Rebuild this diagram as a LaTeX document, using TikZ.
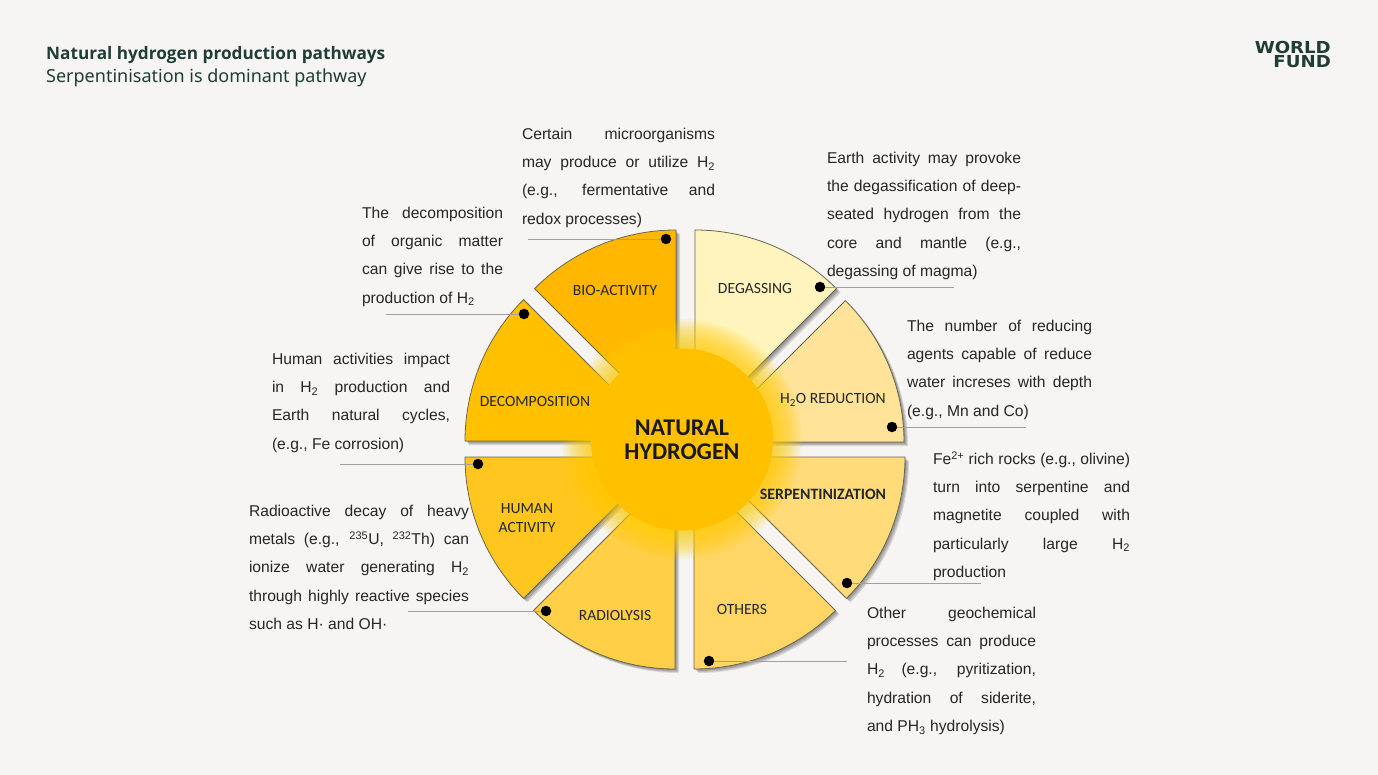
\documentclass[tikz,border=0pt]{standalone}
\usepackage{fontspec}
\setmainfont{Liberation Sans}
\newfontfamily\labelfont{Carlito}
\newfontfamily\titlefont{Noto Sans}
\newfontfamily\titleboldfont{Open Sans}
\newfontfamily\logofont[FakeStretch=1.1]{DejaVu Sans}
\definecolor{bgc}{HTML}{F6F5F3}
\definecolor{txtc}{HTML}{262626}
\definecolor{titlec}{HTML}{1F3D36}
\definecolor{edgec}{HTML}{6A6650}
\definecolor{leadc}{HTML}{A0A0A0}
\definecolor{hubc}{HTML}{FFC000}
\definecolor{glowc}{HTML}{FFCC00}
\definecolor{cdeg}{HTML}{FFF4BD}
\definecolor{chtwo}{HTML}{FFE399}
\definecolor{cser}{HTML}{FFDB7A}
\definecolor{coth}{HTML}{FFD666}
\definecolor{crad}{HTML}{FFCF47}
\definecolor{chum}{HTML}{FFC61F}
\definecolor{cdec}{HTML}{FFC000}
\definecolor{cbio}{HTML}{FFB700}
\tikzset{
  para/.style={anchor=north west,inner sep=0pt,outer sep=0pt,text=txtc,align=justify,font=\fontsize{15.65}{28.2}\selectfont,execute at begin node={\hyphenpenalty=10000 \tolerance=9999 }},
  seclabel/.style={inner sep=0pt,text=black!85,font=\labelfont\fontsize{15.6}{18.5}\selectfont,align=center},
  dotnode/.style={circle,fill=black,inner sep=0pt,minimum size=10.5pt},
  leader/.style={draw=leadc,line width=0.9pt},
  sectoredge/.style={draw=edgec,line width=0.8pt,line join=round},
  logotext/.style={anchor=base east,inner sep=0pt,text=titlec,font=\logofont\bfseries\fontsize{16.5}{14}\selectfont},
}
\newcommand{\sectorpath}[4]{(#1,#2) -- ++(#3:200) arc[start angle=#3,end angle=#4,radius=200] -- cycle}
\newcommand{\sector}[5]{%
  \foreach \d in {1,2,3,4}{\fill[black,opacity=.12,shift={(\d,\d)}] \sectorpath{#1}{#2}{#3}{#4};}%
  \path[sectoredge,fill=#5] \sectorpath{#1}{#2}{#3}{#4};}
\newcommand{\lb}{\linebreak}
\begin{document}
\begin{tikzpicture}[x=1pt,y=1pt,yscale=-1]
\useasboundingbox (0,0) rectangle (1378,775);
\fill[bgc] (0,0) rectangle (1378,775);

\node[anchor=base west,inner sep=0pt,text=titlec,font=\titleboldfont\bfseries\fontsize{17.2}{22}\selectfont] (title) at (46,59.5) {Natural hydrogen production pathways};
\node[anchor=base west,inner sep=0pt,text=titlec,font=\titlefont\fontsize{18}{22}\selectfont] (subtitle) at (46,82.5) {Serpentinisation is dominant pathway};
\node[logotext] (logoa) at (1331,53.5) {WORLD};
\node[logotext] (logob) at (1331,67.5) {FUND};

\sector{695}{430}{-90}{-45}{cdeg}
\sector{704}{442}{-45}{0}{chtwo}
\sector{705}{457}{0}{45}{cser}
\sector{694}{469}{45}{90}{coth}
\sector{675}{469}{90}{135}{crad}
\sector{665}{457}{135}{180}{chum}
\sector{665}{441}{180}{225}{cdec}
\sector{676}{430}{225}{270}{cbio}

\foreach \r in {120,118,...,92}{\fill[glowc,opacity=.08] (682,439) circle[radius=\r];}
\node[circle,fill=hubc,inner sep=0pt,minimum size=182pt,text=black!90,align=center,font=\labelfont\bfseries\fontsize{24}{24}\selectfont] (hub) at (682,439.5) {NATURAL\\HYDROGEN};

\node[seclabel] (lbio) at (615,290.5) {BIO-ACTIVITY};
\node[seclabel] (ldeg) at (755,288.5) {DEGASSING};
\node[seclabel] (ldec) at (535,401.5) {DECOMPOSITION};
\node[seclabel] (lh2o) at (833,400) {H\textsubscript{2}O REDUCTION};
\node[seclabel,font=\labelfont\bfseries\fontsize{15.8}{18.5}\selectfont] (lser) at (823,494.5) {SERPENTINIZATION};
\node[seclabel] (lhum) at (527,518) {HUMAN\\ACTIVITY};
\node[seclabel] (lrad) at (615,615) {RADIOLYSIS};
\node[seclabel] (loth) at (742,609) {OTHERS};

\node[dotnode] (dbio) at (666,239) {};
\node[dotnode] (ddec) at (524,314) {};
\node[dotnode] (ddeg) at (820,287) {};
\node[dotnode] (dh2o) at (892,427) {};
\node[dotnode] (dser) at (847,583) {};
\node[dotnode] (doth) at (709,661) {};
\node[dotnode] (drad) at (546,611) {};
\node[dotnode] (dhum) at (478,464) {};
\coordinate (ebio) at (528,239);
\coordinate (edec) at (386,314);
\coordinate (edeg) at (954,287);
\coordinate (eh2o) at (1026,427);
\coordinate (eser) at (981,583);
\coordinate (eoth) at (847,661);
\coordinate (erad) at (408,611);
\coordinate (ehum) at (340,464);
\foreach \n in {bio,dec,deg,h2o,ser,oth,rad,hum}{\draw[leader] (d\n) -- (e\n);}

\node[para,text width=193pt] (tbio) at (522,119.8) {\strut Certain microorganisms\lb may produce or utilize H\textsubscript{2}\lb (e.g., fermentative and\lb redox processes)};
\node[para,text width=194pt] (tdeg) at (827,143.8) {\strut Earth activity may provoke\lb the degassification of deep-\lb seated hydrogen from the\lb core and mantle (e.g.,\lb degassing of magma)};
\node[para,text width=141pt] (tdec) at (362,198.8) {\strut The decomposition\lb of organic matter\lb can give rise to the\lb production of H\textsubscript{2}};
\node[para,text width=178pt] (thum) at (272,344.8) {\strut Human activities impact\lb in H\textsubscript{2} production and\lb Earth natural cycles,\lb (e.g., Fe corrosion)};
\node[para,text width=220pt] (trad) at (249,496.8) {\strut Radioactive decay of heavy\lb metals (e.g., \textsuperscript{235}U, \textsuperscript{232}Th) can\lb ionize water generating H\textsubscript{2}\lb through highly reactive species\lb such as H· and OH·};
\node[para,text width=185pt] (th2o) at (907,311.8) {\strut The number of reducing\lb agents capable of reduce\lb water increses with depth\lb (e.g., Mn and Co)};
\node[para,text width=197pt] (tser) at (933,444.8) {\strut Fe\textsuperscript{2+} rich rocks (e.g., olivine)\lb turn into serpentine and\lb magnetite coupled with\lb particularly large H\textsubscript{2}\lb production};
\node[para,text width=169pt] (toth) at (867,598.8) {\strut Other geochemical\lb processes can produce\lb H\textsubscript{2} (e.g., pyritization,\lb hydration of siderite,\lb and PH\textsubscript{3} hydrolysis)};
\end{tikzpicture}
\end{document}
